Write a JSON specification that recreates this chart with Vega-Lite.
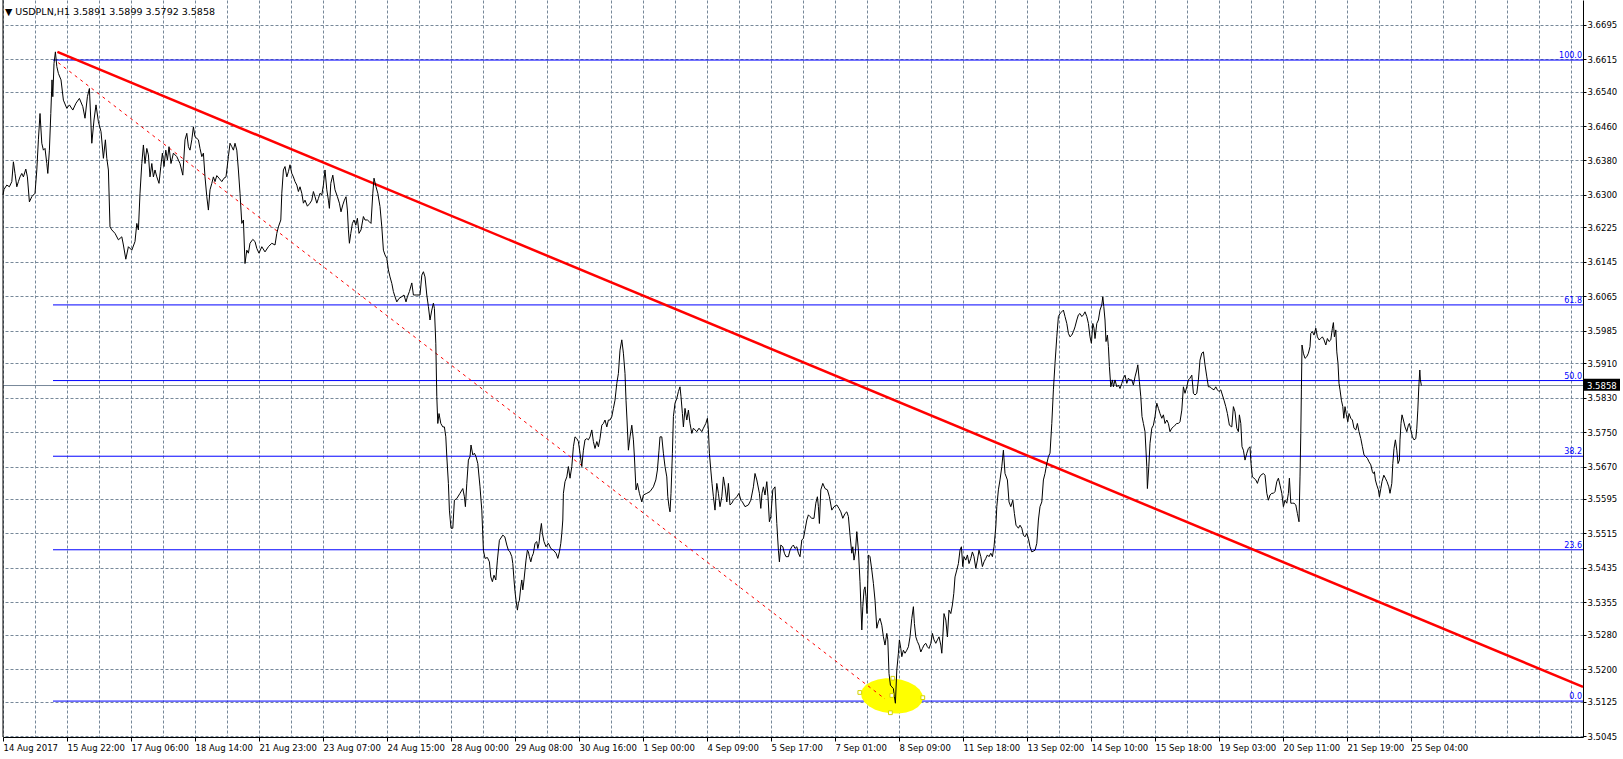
{
"$schema": "https://vega.github.io/schema/vega-lite/v6.json",
"width": 1580, "height": 737,
"autosize": {"type": "none"},
"padding": {"left": 3, "top": 0, "right": 40, "bottom": 22},
"background": "white",
"config": {"view": {"stroke": null}},
"resolve": {"axis": {"x": "independent", "y": "independent"}},
"title": {"text": "▼ USDPLN,H1  3.5891 3.5899 3.5792 3.5858", "anchor": "start", "frame": "group", "orient": "top", "offset": -25, "baseline": "alphabetic", "dx": 2, "font": "DejaVu Sans", "fontSize": 9.5, "fontWeight": "normal", "color": "black"},
"datasets": {
"fib": [{"level": "100.0", "p": 3.6613}, {"level": "61.8", "p": 3.6045}, {"level": "50.0", "p": 3.58695}, {"level": "38.2", "p": 3.5694}, {"level": "23.6", "p": 3.5477}, {"level": "0.0", "p": 3.5126}],
"trend": [{"i": 27.2, "p": 3.6632}, {"i": 790, "p": 3.5159}],
"diag": [{"i": 27.6, "p": 3.6607}, {"i": 441, "p": 3.5131}],
"ellipse": [{"i": 444.5, "p": 3.5138}],
"anchors": [{"i": 428.4, "p": 3.5146}, {"i": 459.9, "p": 3.5134}, {"i": 444.9, "p": 3.5179}, {"i": 443.7, "p": 3.5099}, {"i": 444.4, "p": 3.5139}],
"price": [
{"i":0,"p":3.6300},{"i":0.5,"p":3.6313},{"i":1.9,"p":3.6323},{"i":3.2,"p":3.6319},{"i":4.4,"p":3.6331},{"i":5.2,"p":3.6377},{"i":6.0,"p":3.6350},{"i":6.9,"p":3.6319},{"i":7.7,"p":3.6331},{"i":8.5,"p":3.6342},{"i":9.4,"p":3.6350},{"i":10.2,"p":3.6342},{"i":11.4,"p":3.6360},{"i":12.2,"p":3.6342},{"i":13.2,"p":3.6284},{"i":14.4,"p":3.6296},{"i":16.0,"p":3.6304},{"i":16.9,"p":3.6358},{"i":17.7,"p":3.6428},{"i":18.5,"p":3.6489},{"i":19.4,"p":3.6420},{"i":20.2,"p":3.6404},{"i":21.0,"p":3.6408},{"i":21.9,"p":3.6373},{"i":22.4,"p":3.6350},{"i":23.2,"p":3.6404},{"i":23.9,"p":3.6489},{"i":24.5,"p":3.6567},{"i":24.9,"p":3.6528},{"i":25.5,"p":3.6605},{"i":26.2,"p":3.6632},{"i":26.9,"p":3.6598},{"i":27.7,"p":3.6582},{"i":29.0,"p":3.6567},{"i":30.2,"p":3.6520},{"i":31.9,"p":3.6501},{"i":33.2,"p":3.6509},{"i":34.9,"p":3.6497},{"i":36.5,"p":3.6513},{"i":38.2,"p":3.6524},{"i":39.9,"p":3.6505},{"i":41.0,"p":3.6478},{"i":42.2,"p":3.6528},{"i":43.2,"p":3.6547},{"i":44.4,"p":3.6420},{"i":45.5,"p":3.6474},{"i":46.5,"p":3.6509},{"i":47.7,"p":3.6470},{"i":49.0,"p":3.6447},{"i":50.2,"p":3.6385},{"i":51.2,"p":3.6428},{"i":51.9,"p":3.6385},{"i":52.7,"p":3.6358},{"i":53.5,"p":3.6226},{"i":54.4,"p":3.6219},{"i":56.0,"p":3.6211},{"i":57.7,"p":3.6196},{"i":59.4,"p":3.6203},{"i":60.2,"p":3.6184},{"i":61.4,"p":3.6151},{"i":62.7,"p":3.6180},{"i":64.4,"p":3.6172},{"i":66.0,"p":3.6192},{"i":66.9,"p":3.6234},{"i":67.7,"p":3.6219},{"i":68.5,"p":3.6304},{"i":69.4,"p":3.6373},{"i":70.2,"p":3.6416},{"i":71.0,"p":3.6373},{"i":71.9,"p":3.6408},{"i":72.7,"p":3.6393},{"i":73.5,"p":3.6342},{"i":74.4,"p":3.6373},{"i":75.2,"p":3.6342},{"i":76.0,"p":3.6358},{"i":76.9,"p":3.6342},{"i":78.0,"p":3.6327},{"i":78.9,"p":3.6366},{"i":79.7,"p":3.6397},{"i":80.5,"p":3.6366},{"i":81.4,"p":3.6404},{"i":82.2,"p":3.6381},{"i":83.0,"p":3.6412},{"i":84.0,"p":3.6373},{"i":85.2,"p":3.6397},{"i":86.9,"p":3.6389},{"i":88.5,"p":3.6373},{"i":89.9,"p":3.6346},{"i":91.0,"p":3.6428},{"i":91.9,"p":3.6443},{"i":92.7,"p":3.6412},{"i":93.5,"p":3.6404},{"i":94.4,"p":3.6428},{"i":95.2,"p":3.6458},{"i":96.0,"p":3.6435},{"i":97.7,"p":3.6428},{"i":98.5,"p":3.6408},{"i":99.4,"p":3.6389},{"i":100.2,"p":3.6397},{"i":101.0,"p":3.6342},{"i":101.9,"p":3.6296},{"i":102.7,"p":3.6265},{"i":103.5,"p":3.6312},{"i":104.4,"p":3.6327},{"i":105.2,"p":3.6342},{"i":106.0,"p":3.6331},{"i":106.9,"p":3.6345},{"i":108.0,"p":3.6339},{"i":109.4,"p":3.6331},{"i":110.5,"p":3.6339},{"i":111.5,"p":3.6342},{"i":112.7,"p":3.6389},{"i":113.5,"p":3.6420},{"i":114.4,"p":3.6412},{"i":115.2,"p":3.6404},{"i":116.0,"p":3.6420},{"i":116.9,"p":3.6404},{"i":117.7,"p":3.6358},{"i":118.5,"p":3.6304},{"i":119.4,"p":3.6234},{"i":120.2,"p":3.6242},{"i":121.0,"p":3.6141},{"i":121.9,"p":3.6172},{"i":122.7,"p":3.6165},{"i":123.5,"p":3.6188},{"i":124.9,"p":3.6197},{"i":126.0,"p":3.6192},{"i":126.9,"p":3.6176},{"i":128.0,"p":3.6165},{"i":129.4,"p":3.6180},{"i":131.0,"p":3.6168},{"i":132.7,"p":3.6180},{"i":134.4,"p":3.6188},{"i":136.0,"p":3.6184},{"i":136.9,"p":3.6211},{"i":137.7,"p":3.6226},{"i":138.9,"p":3.6242},{"i":139.4,"p":3.6304},{"i":140.2,"p":3.6358},{"i":141.0,"p":3.6366},{"i":141.9,"p":3.6342},{"i":142.7,"p":3.6354},{"i":143.5,"p":3.6370},{"i":144.4,"p":3.6350},{"i":145.2,"p":3.6342},{"i":146.0,"p":3.6331},{"i":146.9,"p":3.6323},{"i":147.7,"p":3.6308},{"i":148.5,"p":3.6319},{"i":149.4,"p":3.6304},{"i":150.2,"p":3.6281},{"i":151.0,"p":3.6288},{"i":152.2,"p":3.6274},{"i":153.5,"p":3.6281},{"i":154.4,"p":3.6288},{"i":155.2,"p":3.6308},{"i":156.0,"p":3.6296},{"i":156.9,"p":3.6281},{"i":157.7,"p":3.6292},{"i":158.5,"p":3.6304},{"i":159.4,"p":3.6300},{"i":160.2,"p":3.6323},{"i":161.0,"p":3.6358},{"i":161.9,"p":3.6312},{"i":162.7,"p":3.6288},{"i":163.2,"p":3.6269},{"i":163.9,"p":3.6327},{"i":164.9,"p":3.6346},{"i":166.0,"p":3.6312},{"i":167.2,"p":3.6296},{"i":168.2,"p":3.6281},{"i":169.0,"p":3.6261},{"i":169.9,"p":3.6277},{"i":170.7,"p":3.6288},{"i":171.5,"p":3.6296},{"i":172.2,"p":3.6265},{"i":172.7,"p":3.6219},{"i":173.2,"p":3.6188},{"i":173.9,"p":3.6211},{"i":174.7,"p":3.6234},{"i":175.5,"p":3.6242},{"i":176.4,"p":3.6230},{"i":177.2,"p":3.6246},{"i":178.0,"p":3.6211},{"i":179.0,"p":3.6219},{"i":180.2,"p":3.6250},{"i":181.0,"p":3.6242},{"i":182.2,"p":3.6242},{"i":183.2,"p":3.6238},{"i":184.0,"p":3.6234},{"i":184.9,"p":3.6304},{"i":185.5,"p":3.6339},{"i":186.5,"p":3.6319},{"i":187.4,"p":3.6304},{"i":188.5,"p":3.6273},{"i":189.4,"p":3.6226},{"i":190.2,"p":3.6172},{"i":191.0,"p":3.6161},{"i":191.9,"p":3.6153},{"i":192.7,"p":3.6126},{"i":193.5,"p":3.6110},{"i":194.4,"p":3.6095},{"i":195.2,"p":3.6076},{"i":196.0,"p":3.6064},{"i":196.9,"p":3.6052},{"i":198.0,"p":3.6060},{"i":199.4,"p":3.6064},{"i":200.5,"p":3.6068},{"i":201.5,"p":3.6052},{"i":202.2,"p":3.6064},{"i":203.2,"p":3.6076},{"i":204.4,"p":3.6096},{"i":205.2,"p":3.6068},{"i":206.9,"p":3.6068},{"i":208.5,"p":3.6068},{"i":209.4,"p":3.6114},{"i":210.2,"p":3.6122},{"i":211.0,"p":3.6110},{"i":211.9,"p":3.6068},{"i":212.7,"p":3.6041},{"i":213.5,"p":3.6010},{"i":214.4,"p":3.6033},{"i":215.2,"p":3.6049},{"i":215.7,"p":3.6037},{"i":216.4,"p":3.5956},{"i":216.9,"p":3.5832},{"i":217.4,"p":3.5770},{"i":218.0,"p":3.5793},{"i":218.9,"p":3.5770},{"i":219.9,"p":3.5762},{"i":220.7,"p":3.5762},{"i":221.4,"p":3.5739},{"i":221.9,"p":3.5693},{"i":222.7,"p":3.5631},{"i":223.2,"p":3.5569},{"i":224.0,"p":3.5527},{"i":224.9,"p":3.5527},{"i":225.7,"p":3.5592},{"i":226.9,"p":3.5596},{"i":228.5,"p":3.5608},{"i":229.9,"p":3.5619},{"i":230.7,"p":3.5600},{"i":231.2,"p":3.5577},{"i":231.9,"p":3.5631},{"i":232.7,"p":3.5685},{"i":233.5,"p":3.5693},{"i":234.0,"p":3.5720},{"i":234.9,"p":3.5697},{"i":235.7,"p":3.5701},{"i":236.5,"p":3.5693},{"i":237.4,"p":3.5677},{"i":238.5,"p":3.5623},{"i":239.4,"p":3.5569},{"i":240.2,"p":3.5476},{"i":241.0,"p":3.5457},{"i":242.2,"p":3.5459},{"i":243.2,"p":3.5449},{"i":243.9,"p":3.5414},{"i":244.7,"p":3.5403},{"i":245.5,"p":3.5418},{"i":246.4,"p":3.5407},{"i":247.2,"p":3.5453},{"i":248.2,"p":3.5499},{"i":249.9,"p":3.5511},{"i":250.9,"p":3.5507},{"i":251.9,"p":3.5488},{"i":252.7,"p":3.5476},{"i":253.5,"p":3.5472},{"i":254.4,"p":3.5461},{"i":254.9,"p":3.5445},{"i":255.5,"p":3.5407},{"i":256.0,"p":3.5380},{"i":256.5,"p":3.5360},{"i":257.2,"p":3.5337},{"i":257.7,"p":3.5353},{"i":258.2,"p":3.5360},{"i":258.9,"p":3.5391},{"i":259.4,"p":3.5407},{"i":259.9,"p":3.5384},{"i":260.5,"p":3.5407},{"i":261.0,"p":3.5430},{"i":261.5,"p":3.5453},{"i":262.2,"p":3.5476},{"i":262.7,"p":3.5472},{"i":263.2,"p":3.5461},{"i":263.9,"p":3.5449},{"i":264.5,"p":3.5461},{"i":265.2,"p":3.5469},{"i":266.0,"p":3.5492},{"i":266.9,"p":3.5496},{"i":267.4,"p":3.5480},{"i":268.0,"p":3.5492},{"i":268.5,"p":3.5515},{"i":269.2,"p":3.5538},{"i":269.7,"p":3.5515},{"i":270.5,"p":3.5496},{"i":271.5,"p":3.5484},{"i":272.7,"p":3.5492},{"i":273.9,"p":3.5480},{"i":275.2,"p":3.5476},{"i":276.5,"p":3.5469},{"i":277.4,"p":3.5457},{"i":278.2,"p":3.5472},{"i":278.9,"p":3.5492},{"i":279.4,"p":3.5515},{"i":279.9,"p":3.5546},{"i":280.2,"p":3.5608},{"i":281.0,"p":3.5635},{"i":281.9,"p":3.5646},{"i":282.7,"p":3.5670},{"i":283.5,"p":3.5643},{"i":284.4,"p":3.5670},{"i":285.2,"p":3.5716},{"i":286.0,"p":3.5739},{"i":286.9,"p":3.5735},{"i":287.7,"p":3.5728},{"i":288.5,"p":3.5701},{"i":289.4,"p":3.5670},{"i":290.2,"p":3.5708},{"i":291.0,"p":3.5732},{"i":291.9,"p":3.5735},{"i":292.7,"p":3.5732},{"i":293.5,"p":3.5739},{"i":294.4,"p":3.5755},{"i":295.2,"p":3.5728},{"i":296.0,"p":3.5712},{"i":296.9,"p":3.5728},{"i":297.7,"p":3.5716},{"i":298.5,"p":3.5735},{"i":299.4,"p":3.5766},{"i":300.2,"p":3.5770},{"i":301.0,"p":3.5778},{"i":301.9,"p":3.5762},{"i":302.7,"p":3.5778},{"i":303.5,"p":3.5778},{"i":304.4,"p":3.5786},{"i":305.2,"p":3.5805},{"i":306.0,"p":3.5824},{"i":306.9,"p":3.5863},{"i":307.7,"p":3.5886},{"i":308.5,"p":3.5940},{"i":309.4,"p":3.5964},{"i":310.2,"p":3.5933},{"i":311.0,"p":3.5886},{"i":311.5,"p":3.5824},{"i":312.0,"p":3.5778},{"i":312.7,"p":3.5708},{"i":313.5,"p":3.5739},{"i":314.4,"p":3.5766},{"i":315.2,"p":3.5732},{"i":315.7,"p":3.5693},{"i":316.5,"p":3.5616},{"i":317.2,"p":3.5631},{"i":318.2,"p":3.5608},{"i":319.4,"p":3.5588},{"i":320.2,"p":3.5604},{"i":321.9,"p":3.5608},{"i":323.5,"p":3.5612},{"i":325.2,"p":3.5623},{"i":326.4,"p":3.5639},{"i":327.2,"p":3.5662},{"i":328.0,"p":3.5708},{"i":328.5,"p":3.5739},{"i":329.4,"p":3.5739},{"i":330.2,"p":3.5701},{"i":331.0,"p":3.5670},{"i":331.9,"p":3.5646},{"i":332.4,"p":3.5600},{"i":333.0,"p":3.5577},{"i":333.5,"p":3.5565},{"i":334.0,"p":3.5608},{"i":334.7,"p":3.5701},{"i":335.2,"p":3.5786},{"i":336.0,"p":3.5817},{"i":336.9,"p":3.5828},{"i":337.7,"p":3.5844},{"i":338.5,"p":3.5855},{"i":339.0,"p":3.5832},{"i":339.7,"p":3.5793},{"i":340.2,"p":3.5762},{"i":341.0,"p":3.5805},{"i":341.9,"p":3.5778},{"i":342.7,"p":3.5801},{"i":343.5,"p":3.5770},{"i":344.4,"p":3.5747},{"i":345.2,"p":3.5759},{"i":346.0,"p":3.5755},{"i":346.9,"p":3.5751},{"i":348.0,"p":3.5759},{"i":349.4,"p":3.5751},{"i":350.2,"p":3.5759},{"i":351.4,"p":3.5770},{"i":352.2,"p":3.5782},{"i":352.7,"p":3.5755},{"i":353.2,"p":3.5701},{"i":353.9,"p":3.5662},{"i":354.5,"p":3.5631},{"i":355.2,"p":3.5600},{"i":356.0,"p":3.5569},{"i":356.9,"p":3.5631},{"i":357.7,"p":3.5608},{"i":358.5,"p":3.5577},{"i":359.4,"p":3.5600},{"i":360.2,"p":3.5646},{"i":361.0,"p":3.5623},{"i":361.9,"p":3.5588},{"i":362.7,"p":3.5631},{"i":363.5,"p":3.5581},{"i":364.4,"p":3.5585},{"i":365.2,"p":3.5592},{"i":366.9,"p":3.5600},{"i":368.0,"p":3.5608},{"i":368.9,"p":3.5592},{"i":369.7,"p":3.5588},{"i":371.0,"p":3.5577},{"i":372.7,"p":3.5581},{"i":373.9,"p":3.5592},{"i":375.2,"p":3.5623},{"i":376.0,"p":3.5654},{"i":376.9,"p":3.5639},{"i":378.2,"p":3.5608},{"i":378.9,"p":3.5573},{"i":379.5,"p":3.5608},{"i":380.2,"p":3.5623},{"i":381.0,"p":3.5604},{"i":381.9,"p":3.5635},{"i":382.5,"p":3.5600},{"i":383.2,"p":3.5542},{"i":383.9,"p":3.5554},{"i":384.9,"p":3.5616},{"i":386.0,"p":3.5623},{"i":386.9,"p":3.5538},{"i":387.7,"p":3.5476},{"i":388.2,"p":3.5449},{"i":388.9,"p":3.5488},{"i":389.9,"p":3.5484},{"i":390.7,"p":3.5469},{"i":391.5,"p":3.5461},{"i":392.7,"p":3.5461},{"i":393.5,"p":3.5476},{"i":394.4,"p":3.5484},{"i":395.2,"p":3.5488},{"i":396.0,"p":3.5480},{"i":396.9,"p":3.5484},{"i":397.7,"p":3.5469},{"i":398.5,"p":3.5461},{"i":399.4,"p":3.5500},{"i":400.2,"p":3.5503},{"i":401.0,"p":3.5523},{"i":401.9,"p":3.5546},{"i":402.7,"p":3.5558},{"i":403.5,"p":3.5554},{"i":404.4,"p":3.5550},{"i":405.5,"p":3.5550},{"i":406.4,"p":3.5585},{"i":407.2,"p":3.5600},{"i":407.7,"p":3.5577},{"i":408.2,"p":3.5538},{"i":408.9,"p":3.5616},{"i":409.9,"p":3.5631},{"i":411.0,"p":3.5619},{"i":412.2,"p":3.5616},{"i":413.2,"p":3.5600},{"i":414.4,"p":3.5569},{"i":415.5,"p":3.5577},{"i":416.9,"p":3.5581},{"i":418.0,"p":3.5573},{"i":418.9,"p":3.5565},{"i":419.9,"p":3.5550},{"i":421.0,"p":3.5561},{"i":421.9,"p":3.5565},{"i":422.7,"p":3.5554},{"i":423.5,"p":3.5511},{"i":424.4,"p":3.5469},{"i":424.9,"p":3.5484},{"i":425.5,"p":3.5453},{"i":426.2,"p":3.5472},{"i":426.9,"p":3.5519},{"i":427.7,"p":3.5476},{"i":428.5,"p":3.5403},{"i":429.4,"p":3.5291},{"i":429.9,"p":3.5345},{"i":430.5,"p":3.5384},{"i":431.0,"p":3.5391},{"i":431.5,"p":3.5368},{"i":432.0,"p":3.5329},{"i":432.7,"p":3.5465},{"i":433.5,"p":3.5461},{"i":434.4,"p":3.5430},{"i":435.2,"p":3.5399},{"i":436.0,"p":3.5360},{"i":436.9,"p":3.5295},{"i":437.7,"p":3.5310},{"i":438.5,"p":3.5318},{"i":439.4,"p":3.5302},{"i":440.2,"p":3.5275},{"i":441.0,"p":3.5256},{"i":441.9,"p":3.5283},{"i":442.4,"p":3.5268},{"i":443.0,"p":3.5190},{"i":443.7,"p":3.5163},{"i":444.4,"p":3.5159},{"i":445.2,"p":3.5155},{"i":445.7,"p":3.5136},{"i":446.2,"p":3.5121},{"i":446.9,"p":3.5198},{"i":447.7,"p":3.5237},{"i":448.2,"p":3.5268},{"i":448.9,"p":3.5248},{"i":449.4,"p":3.5229},{"i":450.2,"p":3.5244},{"i":451.0,"p":3.5237},{"i":451.9,"p":3.5244},{"i":452.7,"p":3.5252},{"i":453.5,"p":3.5275},{"i":454.4,"p":3.5318},{"i":455.2,"p":3.5345},{"i":455.7,"p":3.5306},{"i":456.4,"p":3.5275},{"i":457.2,"p":3.5264},{"i":458.0,"p":3.5256},{"i":458.9,"p":3.5240},{"i":459.7,"p":3.5248},{"i":460.5,"p":3.5256},{"i":461.4,"p":3.5260},{"i":462.2,"p":3.5252},{"i":463.0,"p":3.5248},{"i":463.9,"p":3.5260},{"i":464.7,"p":3.5283},{"i":465.5,"p":3.5268},{"i":466.4,"p":3.5260},{"i":467.2,"p":3.5268},{"i":468.0,"p":3.5275},{"i":468.9,"p":3.5256},{"i":469.4,"p":3.5237},{"i":469.9,"p":3.5275},{"i":470.5,"p":3.5329},{"i":471.4,"p":3.5314},{"i":472.2,"p":3.5275},{"i":473.0,"p":3.5337},{"i":473.9,"p":3.5329},{"i":474.7,"p":3.5349},{"i":475.4,"p":3.5376},{"i":476.0,"p":3.5414},{"i":476.9,"p":3.5430},{"i":477.7,"p":3.5445},{"i":478.5,"p":3.5476},{"i":479.2,"p":3.5484},{"i":479.9,"p":3.5438},{"i":480.5,"p":3.5461},{"i":481.4,"p":3.5453},{"i":482.2,"p":3.5465},{"i":483.0,"p":3.5445},{"i":483.9,"p":3.5457},{"i":484.7,"p":3.5472},{"i":485.5,"p":3.5461},{"i":486.4,"p":3.5434},{"i":487.2,"p":3.5453},{"i":488.0,"p":3.5476},{"i":488.9,"p":3.5461},{"i":489.7,"p":3.5438},{"i":490.5,"p":3.5449},{"i":491.4,"p":3.5457},{"i":492.2,"p":3.5465},{"i":493.0,"p":3.5461},{"i":493.9,"p":3.5469},{"i":494.7,"p":3.5461},{"i":495.5,"p":3.5484},{"i":496.4,"p":3.5530},{"i":496.9,"p":3.5577},{"i":497.7,"p":3.5616},{"i":498.5,"p":3.5639},{"i":499.4,"p":3.5670},{"i":500.2,"p":3.5708},{"i":501.0,"p":3.5654},{"i":502.2,"p":3.5639},{"i":503.0,"p":3.5588},{"i":503.9,"p":3.5577},{"i":504.9,"p":3.5592},{"i":505.7,"p":3.5561},{"i":506.5,"p":3.5534},{"i":507.7,"p":3.5527},{"i":508.5,"p":3.5534},{"i":509.4,"p":3.5527},{"i":510.2,"p":3.5511},{"i":511.0,"p":3.5507},{"i":511.9,"p":3.5515},{"i":512.7,"p":3.5503},{"i":513.5,"p":3.5484},{"i":514.4,"p":3.5472},{"i":516.0,"p":3.5476},{"i":516.9,"p":3.5492},{"i":517.7,"p":3.5546},{"i":518.5,"p":3.5577},{"i":519.4,"p":3.5588},{"i":520.2,"p":3.5639},{"i":521.0,"p":3.5654},{"i":521.9,"p":3.5677},{"i":522.7,"p":3.5693},{"i":523.5,"p":3.5701},{"i":524.4,"p":3.5770},{"i":525.2,"p":3.5848},{"i":526.0,"p":3.5909},{"i":526.9,"p":3.5971},{"i":527.7,"p":3.6018},{"i":528.5,"p":3.6025},{"i":529.4,"p":3.6029},{"i":530.2,"p":3.6033},{"i":531.0,"p":3.6018},{"i":531.9,"p":3.6002},{"i":532.7,"p":3.5979},{"i":533.5,"p":3.5971},{"i":534.4,"p":3.5975},{"i":535.2,"p":3.5983},{"i":536.0,"p":3.5994},{"i":536.9,"p":3.6010},{"i":537.7,"p":3.6022},{"i":538.5,"p":3.6025},{"i":539.4,"p":3.6018},{"i":540.2,"p":3.6022},{"i":541.0,"p":3.6029},{"i":541.9,"p":3.6018},{"i":542.7,"p":3.6002},{"i":543.5,"p":3.5971},{"i":544.2,"p":3.5956},{"i":544.9,"p":3.6002},{"i":545.5,"p":3.5991},{"i":546.0,"p":3.5967},{"i":546.9,"p":3.6002},{"i":547.7,"p":3.6010},{"i":548.5,"p":3.6033},{"i":549.4,"p":3.6045},{"i":549.9,"p":3.6064},{"i":550.4,"p":3.6041},{"i":551.0,"p":3.6010},{"i":551.5,"p":3.5960},{"i":552.2,"p":3.5975},{"i":552.7,"p":3.5948},{"i":553.2,"p":3.5902},{"i":553.9,"p":3.5855},{"i":554.7,"p":3.5871},{"i":555.2,"p":3.5855},{"i":556.0,"p":3.5871},{"i":556.9,"p":3.5855},{"i":557.7,"p":3.5859},{"i":558.5,"p":3.5851},{"i":559.4,"p":3.5863},{"i":560.2,"p":3.5875},{"i":561.0,"p":3.5882},{"i":561.9,"p":3.5863},{"i":562.7,"p":3.5875},{"i":563.5,"p":3.5871},{"i":564.4,"p":3.5871},{"i":565.2,"p":3.5859},{"i":566.0,"p":3.5878},{"i":566.9,"p":3.5894},{"i":567.4,"p":3.5906},{"i":568.2,"p":3.5867},{"i":568.9,"p":3.5832},{"i":569.5,"p":3.5786},{"i":570.2,"p":3.5770},{"i":571.0,"p":3.5751},{"i":571.9,"p":3.5670},{"i":572.2,"p":3.5619},{"i":572.9,"p":3.5670},{"i":573.5,"p":3.5724},{"i":574.4,"p":3.5759},{"i":575.2,"p":3.5766},{"i":576.0,"p":3.5786},{"i":576.9,"p":3.5817},{"i":577.7,"p":3.5805},{"i":578.5,"p":3.5793},{"i":579.4,"p":3.5782},{"i":580.2,"p":3.5790},{"i":581.0,"p":3.5770},{"i":581.9,"p":3.5778},{"i":582.7,"p":3.5770},{"i":583.5,"p":3.5751},{"i":584.4,"p":3.5759},{"i":585.2,"p":3.5762},{"i":586.0,"p":3.5766},{"i":586.9,"p":3.5770},{"i":587.7,"p":3.5770},{"i":588.5,"p":3.5774},{"i":589.4,"p":3.5801},{"i":590.2,"p":3.5855},{"i":591.0,"p":3.5840},{"i":591.9,"p":3.5855},{"i":592.7,"p":3.5871},{"i":593.5,"p":3.5875},{"i":594.4,"p":3.5882},{"i":595.2,"p":3.5840},{"i":596.0,"p":3.5836},{"i":596.9,"p":3.5840},{"i":597.7,"p":3.5871},{"i":598.5,"p":3.5917},{"i":599.4,"p":3.5933},{"i":600.2,"p":3.5936},{"i":601.0,"p":3.5906},{"i":601.9,"p":3.5878},{"i":602.7,"p":3.5855},{"i":603.5,"p":3.5855},{"i":604.4,"p":3.5851},{"i":605.5,"p":3.5848},{"i":606.4,"p":3.5855},{"i":607.2,"p":3.5848},{"i":608.0,"p":3.5844},{"i":608.9,"p":3.5848},{"i":609.7,"p":3.5836},{"i":610.5,"p":3.5824},{"i":611.4,"p":3.5809},{"i":612.2,"p":3.5793},{"i":613.2,"p":3.5766},{"i":614.4,"p":3.5762},{"i":615.2,"p":3.5809},{"i":616.0,"p":3.5797},{"i":616.9,"p":3.5759},{"i":617.7,"p":3.5751},{"i":618.2,"p":3.5790},{"i":618.9,"p":3.5770},{"i":619.5,"p":3.5716},{"i":620.2,"p":3.5708},{"i":621.0,"p":3.5685},{"i":621.9,"p":3.5701},{"i":622.7,"p":3.5712},{"i":623.5,"p":3.5716},{"i":624.0,"p":3.5677},{"i":624.7,"p":3.5646},{"i":625.5,"p":3.5643},{"i":626.4,"p":3.5639},{"i":627.2,"p":3.5631},{"i":628.0,"p":3.5643},{"i":628.9,"p":3.5650},{"i":630.2,"p":3.5654},{"i":631.0,"p":3.5650},{"i":631.9,"p":3.5608},{"i":632.7,"p":3.5592},{"i":633.5,"p":3.5604},{"i":634.4,"p":3.5608},{"i":635.2,"p":3.5608},{"i":636.0,"p":3.5612},{"i":636.9,"p":3.5635},{"i":637.7,"p":3.5643},{"i":638.5,"p":3.5627},{"i":639.4,"p":3.5608},{"i":640.2,"p":3.5577},{"i":641.0,"p":3.5592},{"i":641.9,"p":3.5585},{"i":642.7,"p":3.5608},{"i":643.2,"p":3.5643},{"i":643.9,"p":3.5585},{"i":644.7,"p":3.5585},{"i":645.5,"p":3.5585},{"i":646.4,"p":3.5581},{"i":647.2,"p":3.5561},{"i":648.0,"p":3.5542},{"i":648.5,"p":3.5646},{"i":648.9,"p":3.5747},{"i":649.2,"p":3.5848},{"i":649.5,"p":3.5952},{"i":650.2,"p":3.5933},{"i":651.0,"p":3.5921},{"i":651.9,"p":3.5925},{"i":652.7,"p":3.5933},{"i":653.5,"p":3.5948},{"i":653.9,"p":3.5979},{"i":654.7,"p":3.5983},{"i":655.5,"p":3.5975},{"i":656.4,"p":3.5991},{"i":657.2,"p":3.5971},{"i":658.0,"p":3.5964},{"i":658.9,"p":3.5967},{"i":659.7,"p":3.5971},{"i":660.5,"p":3.5964},{"i":661.4,"p":3.5952},{"i":662.2,"p":3.5967},{"i":663.0,"p":3.5960},{"i":663.9,"p":3.5964},{"i":664.7,"p":3.5991},{"i":665.2,"p":3.6004},{"i":665.7,"p":3.5971},{"i":666.4,"p":3.5987},{"i":666.9,"p":3.5936},{"i":667.5,"p":3.5909},{"i":668.0,"p":3.5863},{"i":668.5,"p":3.5848},{"i":669.2,"p":3.5824},{"i":669.9,"p":3.5809},{"i":670.4,"p":3.5782},{"i":671.0,"p":3.5809},{"i":671.7,"p":3.5790},{"i":672.4,"p":3.5774},{"i":673.0,"p":3.5793},{"i":673.9,"p":3.5782},{"i":674.7,"p":3.5778},{"i":675.5,"p":3.5759},{"i":676.4,"p":3.5755},{"i":677.2,"p":3.5770},{"i":678.0,"p":3.5751},{"i":678.9,"p":3.5735},{"i":679.7,"p":3.5716},{"i":680.5,"p":3.5697},{"i":681.4,"p":3.5693},{"i":682.2,"p":3.5689},{"i":683.0,"p":3.5681},{"i":683.9,"p":3.5674},{"i":684.7,"p":3.5658},{"i":685.2,"p":3.5654},{"i":685.7,"p":3.5658},{"i":686.2,"p":3.5639},{"i":686.9,"p":3.5627},{"i":687.7,"p":3.5616},{"i":688.2,"p":3.5600},{"i":688.9,"p":3.5619},{"i":689.5,"p":3.5635},{"i":690.4,"p":3.5650},{"i":691.2,"p":3.5643},{"i":692.0,"p":3.5635},{"i":692.9,"p":3.5623},{"i":693.5,"p":3.5608},{"i":694.4,"p":3.5631},{"i":694.9,"p":3.5677},{"i":695.5,"p":3.5712},{"i":696.2,"p":3.5732},{"i":696.9,"p":3.5708},{"i":697.5,"p":3.5677},{"i":698.2,"p":3.5685},{"i":698.5,"p":3.5732},{"i":699.0,"p":3.5770},{"i":699.5,"p":3.5790},{"i":700.2,"p":3.5778},{"i":701.0,"p":3.5762},{"i":701.9,"p":3.5751},{"i":702.7,"p":3.5766},{"i":703.2,"p":3.5770},{"i":703.9,"p":3.5755},{"i":704.7,"p":3.5739},{"i":705.5,"p":3.5732},{"i":706.4,"p":3.5735},{"i":706.9,"p":3.5759},{"i":707.4,"p":3.5801},{"i":707.9,"p":3.5855},{"i":708.4,"p":3.5894},{"i":708.7,"p":3.5871},{"i":709.2,"p":3.5858}
]
},
"layer": [
{
"data": {"name": "price"},
"mark": {"type": "line", "color": "black", "strokeWidth": 1, "opacity": 0},
"encoding": {
"x": {"field": "i", "type": "quantitative", "scale": {"domain": [0, 790], "nice": false, "zero": false},
"axis": {"orient": "bottom", "title": null, "values": [0,16,32,48,64,80,96,112,128,144,160,176,192,208,224,240,256,272,288,304,320,336,352,368,384,400,416,432,448,464,480,496,512,528,544,560,576,592,608,624,640,656,672,688,704,720,736,752,768,784],
"grid": true, "gridColor": "#778899", "gridDash": [3, 2], "gridWidth": 1,
"domain": true, "domainColor": "black", "domainWidth": 1,
"ticks": true, "tickColor": "black", "tickSize": 4, "tickWidth": 1,
"tickOpacity": {"condition": {"test": "datum.value % 32 === 0 && datum.value <= 704", "value": 1}, "value": 0},
"labelExpr": "(datum.value % 32 === 0 && datum.value <= 704) ? ['14 Aug 2017','15 Aug 22:00','17 Aug 06:00','18 Aug 14:00','21 Aug 23:00','23 Aug 07:00','24 Aug 15:00','28 Aug 00:00','29 Aug 08:00','30 Aug 16:00','1 Sep 00:00','4 Sep 09:00','5 Sep 17:00','7 Sep 01:00','8 Sep 09:00','11 Sep 18:00','13 Sep 02:00','14 Sep 10:00','15 Sep 18:00','19 Sep 03:00','20 Sep 11:00','21 Sep 19:00','25 Sep 04:00'][datum.value / 32] : ''",
"labelAlign": "left", "labelBaseline": "top", "labelPadding": 2, "labelFont": "DejaVu Sans", "labelFontSize": 8.5, "labelColor": "black", "labelOverlap": false, "labelFlush": false, "labelBound": false}},
"y": {"field": "p", "type": "quantitative", "scale": {"domain": [3.50427, 3.67523], "nice": false, "zero": false},
"axis": {"orient": "right", "title": null, "values": [3.5045,3.5125,3.52,3.528,3.5355,3.5435,3.5515,3.5595,3.567,3.575,3.583,3.591,3.5985,3.6065,3.6145,3.6225,3.63,3.638,3.646,3.654,3.6615,3.6695],
"format": ".4f", "grid": true, "gridColor": "#778899", "gridDash": [3, 2], "gridWidth": 1,
"domain": true, "domainColor": "black", "domainWidth": 1,
"ticks": true, "tickColor": "black", "tickSize": 3, "labelPadding": 1, "labelFont": "DejaVu Sans", "labelFontSize": 8.5, "labelColor": "black", "labelOverlap": false, "labelSeparation": 0, "labelFlush": false, "labelBound": false}}
}
},
{
"data": {"name": "fib"},
"mark": {"type": "rule", "color": "#0000ff", "strokeWidth": 1},
"encoding": {
"x": {"datum": 25, "type": "quantitative", "scale": {"domain": [0, 790], "nice": false, "zero": false}, "axis": null},
"x2": {"datum": 790},
"y": {"field": "p", "type": "quantitative", "scale": {"domain": [3.50427, 3.67523], "nice": false, "zero": false}, "axis": null}
}
},
{
"data": {"name": "fib"},
"mark": {"type": "text", "color": "#0000ff", "align": "right", "baseline": "alphabetic", "dy": -2, "font": "DejaVu Sans", "fontSize": 8},
"encoding": {
"x": {"datum": 789.5, "type": "quantitative", "scale": {"domain": [0, 790], "nice": false, "zero": false}, "axis": null},
"y": {"field": "p", "type": "quantitative", "scale": {"domain": [3.50427, 3.67523], "nice": false, "zero": false}, "axis": null},
"text": {"field": "level"}
}
},
{
"data": {"values": [{"p": 3.5858}]},
"mark": {"type": "rule", "color": "#778899", "strokeWidth": 1},
"encoding": {
"y": {"field": "p", "type": "quantitative", "scale": {"domain": [3.50427, 3.67523], "nice": false, "zero": false}, "axis": null}
}
},
{
"data": {"name": "ellipse"},
"mark": {"type": "point", "shape": "M0.996,0.087L0.95,0.23L0.838,0.357L0.67,0.46L0.455,0.531L0.21,0.566L-0.049,0.563L-0.305,0.521L-0.541,0.444L-0.739,0.336L-0.887,0.206L-0.975,0.061L-0.996,-0.087L-0.95,-0.23L-0.838,-0.357L-0.67,-0.46L-0.455,-0.531L-0.21,-0.566L0.049,-0.563L0.305,-0.521L0.541,-0.444L0.739,-0.336L0.887,-0.206L0.975,-0.061Z", "filled": true, "color": "#ffff00", "opacity": 1, "size": 3844, "strokeWidth": 0},
"encoding": {
"x": {"field": "i", "type": "quantitative", "scale": {"domain": [0, 790], "nice": false, "zero": false}, "axis": null},
"y": {"field": "p", "type": "quantitative", "scale": {"domain": [3.50427, 3.67523], "nice": false, "zero": false}, "axis": null}
}
},
{
"data": {"name": "diag"},
"mark": {"type": "line", "color": "#ff0000", "strokeWidth": 1, "strokeDash": [3, 4]},
"encoding": {
"x": {"field": "i", "type": "quantitative", "scale": {"domain": [0, 790], "nice": false, "zero": false}, "axis": null},
"y": {"field": "p", "type": "quantitative", "scale": {"domain": [3.50427, 3.67523], "nice": false, "zero": false}, "axis": null}
}
},
{
"data": {"name": "trend"},
"mark": {"type": "line", "color": "#ff0000", "strokeWidth": 2.5},
"encoding": {
"x": {"field": "i", "type": "quantitative", "scale": {"domain": [0, 790], "nice": false, "zero": false}, "axis": null},
"y": {"field": "p", "type": "quantitative", "scale": {"domain": [3.50427, 3.67523], "nice": false, "zero": false}, "axis": null}
}
},
{
"data": {"name": "price"},
"mark": {"type": "line", "color": "black", "strokeWidth": 1},
"encoding": {
"x": {"field": "i", "type": "quantitative", "scale": {"domain": [0, 790], "nice": false, "zero": false}, "axis": null},
"y": {"field": "p", "type": "quantitative", "scale": {"domain": [3.50427, 3.67523], "nice": false, "zero": false}, "axis": null}
}
},
{
"data": {"name": "anchors"},
"mark": {"type": "point", "shape": "square", "size": 14, "filled": true, "fill": "white", "stroke": "#d4d400", "strokeWidth": 1, "opacity": 1},
"encoding": {
"x": {"field": "i", "type": "quantitative", "scale": {"domain": [0, 790], "nice": false, "zero": false}, "axis": null},
"y": {"field": "p", "type": "quantitative", "scale": {"domain": [3.50427, 3.67523], "nice": false, "zero": false}, "axis": null}
}
},
{
"data": {"values": [{"a": 1}]},
"mark": {"type": "rule", "color": "black", "strokeWidth": 1},
"encoding": {
"x": {"datum": 0, "type": "quantitative", "scale": {"domain": [0, 790], "nice": false, "zero": false}, "axis": null}
}
},
{
"data": {"values": [{"a": 1}]},
"mark": {"type": "rect", "color": "black", "clip": false},
"encoding": {
"x": {"datum": 790.5, "type": "quantitative", "scale": {"domain": [0, 790], "nice": false, "zero": false}, "axis": null},
"x2": {"datum": 808.5},
"y": {"datum": 3.5874, "type": "quantitative", "scale": {"domain": [3.50427, 3.67523], "nice": false, "zero": false}, "axis": null},
"y2": {"datum": 3.5846}
}
},
{
"data": {"values": [{"t": "3.5858"}]},
"mark": {"type": "text", "color": "white", "align": "left", "baseline": "middle", "font": "DejaVu Sans", "fontSize": 8.5, "clip": false},
"encoding": {
"x": {"datum": 792, "type": "quantitative", "scale": {"domain": [0, 790], "nice": false, "zero": false}, "axis": null},
"y": {"datum": 3.5858, "type": "quantitative", "scale": {"domain": [3.50427, 3.67523], "nice": false, "zero": false}, "axis": null},
"text": {"field": "t"}
}
}
]
}
